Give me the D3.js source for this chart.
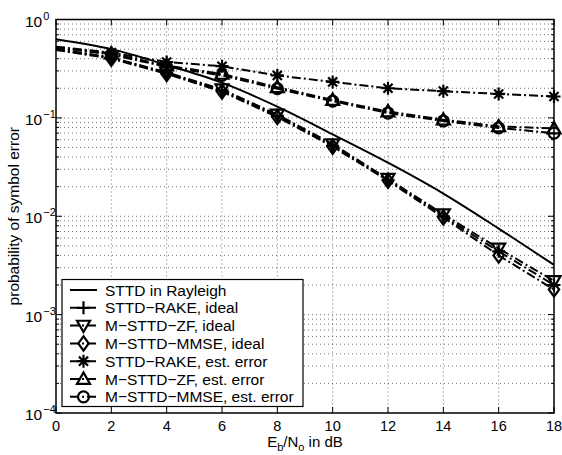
<!DOCTYPE html>
<html lang="en">
<head>
<meta charset="UTF-8">
<title>Symbol error probability vs Eb/No</title>
<style>
    body { margin: 0; background: #fff; }
    svg { display: block; font-family: "Liberation Sans", Arial, sans-serif; }
    .tick-label { font-size: 14.5px; fill: #000; }
    .legend-text { font-size: 15.5px; fill: #000; }
</style>
</head>
<body>
<div id="chart"></div>
<script src="https://d3js.org/d3.v7.min.js"></script>
<script>
// Eb/No in dB
const snr = [0, 2, 4, 6, 8, 10, 12, 14, 16, 18];

// series values (probability of symbol error)
const rayleigh   = [0.63, 0.50, 0.345, 0.228, 0.13, 0.068, 0.035, 0.017, 0.0075, 0.0032];
const rakeIdeal  = [0.50, 0.41, 0.285, 0.19, 0.105, 0.052, 0.0235, 0.0100, 0.0044, 0.0020];
const zfIdeal    = [0.50, 0.41, 0.29, 0.195, 0.108, 0.054, 0.024, 0.0105, 0.0047, 0.0022];
const mmseIdeal  = [0.49, 0.40, 0.28, 0.185, 0.102, 0.051, 0.023, 0.0097, 0.0040, 0.0018];
const rakeEst    = [0.53, 0.46, 0.37, 0.335, 0.27, 0.232, 0.20, 0.187, 0.175, 0.165];
const zfEst      = [0.52, 0.45, 0.34, 0.28, 0.205, 0.152, 0.116, 0.096, 0.082, 0.078];
const mmseEst    = [0.52, 0.44, 0.33, 0.27, 0.198, 0.148, 0.112, 0.093, 0.079, 0.070];

const seriesNames = [
    'STTD in Rayleigh',
    'STTD\u2212RAKE, ideal',
    'M\u2212STTD\u2212ZF, ideal',
    'M\u2212STTD\u2212MMSE, ideal',
    'STTD\u2212RAKE, est. error',
    'M\u2212STTD\u2212ZF, est. error',
    'M\u2212STTD\u2212MMSE, est. error'
];
const seriesValues = [rayleigh, rakeIdeal, zfIdeal, mmseIdeal, rakeEst, zfEst, mmseEst];
const seriesMarkers = [null, '+', 'v', 'd', '*', '^', 'o'];

const xTicks = [0, 2, 4, 6, 8, 10, 12, 14, 16, 18];
const yExponents = [0, -1, -2, -3, -4];

const W = 562, H = 455;
const margin = { top: 19.5, right: 8, bottom: 42, left: 56 };
const width = W - margin.left - margin.right;
const height = H - margin.top - margin.bottom;

const svg = d3.select('#chart').append('svg')
    .attr('width', W)
    .attr('height', H);

const g = svg.append('g')
    .attr('transform', `translate(${margin.left},${margin.top})`);

const x = d3.scaleLinear().domain([0, 18]).range([0, width]);
const y = d3.scaleLog().domain([1e-4, 1]).range([height, 0]);

// minor values for log grid
const minorY = [];
for (let e = -4; e < 0; e++) {
    for (let m = 2; m <= 9; m++) minorY.push(m * Math.pow(10, e));
}
const majorY = yExponents.map(e => Math.pow(10, e));

// grid
const grid = g.append('g')
    .attr('stroke', '#333')
    .attr('stroke-width', 0.7)
    .attr('stroke-dasharray', '1,3');
grid.selectAll('.gx').data(xTicks.slice(1, -1)).enter().append('line')
    .attr('x1', d => x(d)).attr('x2', d => x(d))
    .attr('y1', 0).attr('y2', height);
grid.selectAll('.gy').data(minorY.concat(majorY.slice(1, -1))).enter().append('line')
    .attr('x1', 0).attr('x2', width)
    .attr('y1', d => y(d)).attr('y2', d => y(d));

// ticks (inside, all four sides)
const ticks = g.append('g').attr('stroke', '#000').attr('stroke-width', 1);
xTicks.forEach(v => {
    ticks.append('line').attr('x1', x(v)).attr('x2', x(v)).attr('y1', height).attr('y2', height - 6);
    ticks.append('line').attr('x1', x(v)).attr('x2', x(v)).attr('y1', 0).attr('y2', 6);
});
majorY.forEach(v => {
    ticks.append('line').attr('x1', 0).attr('x2', 6).attr('y1', y(v)).attr('y2', y(v));
    ticks.append('line').attr('x1', width).attr('x2', width - 6).attr('y1', y(v)).attr('y2', y(v));
});
minorY.forEach(v => {
    ticks.append('line').attr('x1', 0).attr('x2', 3).attr('y1', y(v)).attr('y2', y(v));
    ticks.append('line').attr('x1', width).attr('x2', width - 3).attr('y1', y(v)).attr('y2', y(v));
});

// box
g.append('rect')
    .attr('width', width).attr('height', height)
    .attr('fill', 'none').attr('stroke', '#000').attr('stroke-width', 1.5);

// x tick labels
g.selectAll('.xl').data(xTicks).enter().append('text')
    .attr('class', 'tick-label')
    .attr('x', d => x(d))
    .attr('y', height + 17.5)
    .attr('text-anchor', 'middle')
    .text(d => d);

// y tick labels 10^e
yExponents.forEach(e => {
    const t = g.append('text')
        .attr('class', 'tick-label')
        .attr('font-size', 15.5)
        .attr('x', -31)
        .attr('y', y(Math.pow(10, e)) + 7)
        .attr('text-anchor', 'start');
    t.append('tspan').attr('font-size', 15.5).text('10');
    t.append('tspan').attr('dy', -7).attr('dx', 1).attr('font-size', 11)
        .text(e === 0 ? '0' : '\u2212' + (-e));
});

// axis titles
const xt = svg.append('text')
    .attr('x', margin.left + width / 2)
    .attr('y', 447)
    .attr('text-anchor', 'middle')
    .attr('font-size', 15);
xt.append('tspan').text('E');
xt.append('tspan').attr('dy', 4).attr('font-size', 11).text('b');
xt.append('tspan').attr('dy', -4).text('/N');
xt.append('tspan').attr('dy', 4).attr('font-size', 11).text('o');
xt.append('tspan').attr('dy', -4).text(' in dB');

svg.append('text')
    .attr('transform', `translate(19,${margin.top + height / 2}) rotate(-90)`)
    .attr('text-anchor', 'middle')
    .attr('font-size', 15.5)
    .text('probability of symbol error');

// markers
function markerPath(type, r) {
    switch (type) {
        case '+': return `M${-r},0H${r}M0,${-r}V${r}`;
        case '*': {
            const k = r * 0.7;
            return `M${-r},0H${r}M0,${-r}V${r}M${-k},${-k}L${k},${k}M${-k},${k}L${k},${-k}`;
        }
        case 'v': return `M${-r},${-r * 0.75}L${r},${-r * 0.75}L0,${r}Z`;
        case '^': return `M${-r},${r * 0.75}L${r},${r * 0.75}L0,${-r}Z`;
        case 'd': return `M0,${-r * 1.1}L${r * 0.8},0L0,${r * 1.1}L${-r * 0.8},0Z`;
        case 'o': {
            return `M${r},0A${r},${r} 0 1,1 ${-r},0A${r},${r} 0 1,1 ${r},0Z`;
        }
    }
    return '';
}

const line = d3.line().x(d => x(d[0])).y(d => y(d[1]));
const smooth = d3.line().x(d => x(d[0])).y(d => y(d[1])).curve(d3.curveMonotoneX);

seriesValues.forEach((vals, i) => {
    const pts = snr.map((s, j) => [s, vals[j]]);
    const mk = seriesMarkers[i];
    g.append('path')
        .datum(pts)
        .attr('d', mk ? line : smooth)
        .attr('fill', 'none')
        .attr('stroke', '#000')
        .attr('stroke-width', 2)
        .attr('stroke-dasharray', mk ? '9,3,2,3' : null);
    if (mk) {
        g.selectAll(null).data(pts.slice(1)).enter().append('path')
            .attr('transform', d => `translate(${x(d[0])},${y(d[1])})`)
            .attr('d', markerPath(mk, mk === 'o' ? 5.5 : 6.5))
            .attr('fill', 'none')
            .attr('stroke', '#000')
            .attr('stroke-width', 2.2);
    }
});

// legend
const lg = svg.append('g');
lg.append('rect')
    .attr('x', 62).attr('y', 279.5)
    .attr('width', 241).attr('height', 127)
    .attr('fill', '#fff').attr('stroke', '#000').attr('stroke-width', 1.2);
seriesNames.forEach((name, i) => {
    const ly = 290 + i * 17.8;
    const mk = seriesMarkers[i];
    lg.append('line')
        .attr('x1', 70).attr('x2', 97).attr('y1', ly).attr('y2', ly)
        .attr('stroke', '#000')
        .attr('stroke-width', 2)
        .attr('stroke-dasharray', mk ? '9,3,2,3' : null);
    if (mk) {
        lg.append('path')
            .attr('transform', `translate(83.5,${ly})`)
            .attr('d', markerPath(mk, mk === 'o' ? 5.5 : 6.5))
            .attr('fill', 'none')
            .attr('stroke', '#000')
            .attr('stroke-width', 2.2);
    }
    lg.append('text')
        .attr('class', 'legend-text')
        .attr('x', 105)
        .attr('y', ly + 5.5)
        .text(name);
});
</script>
</body>
</html>
